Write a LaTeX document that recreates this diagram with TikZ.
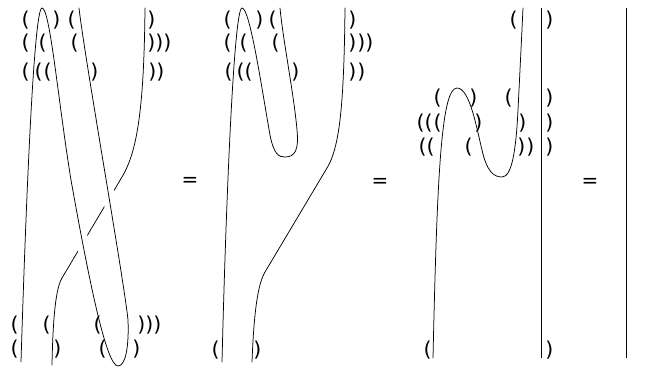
\documentclass[tikz,border=0pt]{standalone}
\usepackage{fontspec}
\setmainfont{DejaVu Sans}
\newcommand\looponepath{(21,362) .. controls (26,200) and (34,8) .. (42,8) .. controls (50,8) and (58,100) .. (71,180) .. controls (88,275) and (106,366) .. (118,366) .. controls (126,366) and (129,345) .. (128,320) .. controls (124,280) and (85,60) .. (79,8)}
\begin{document}
\begin{tikzpicture}[x=1pt,y=-1pt,
  strand/.style={line width=0.75pt, line cap=round, line join=round},
  halo/.style={white, line width=12pt},
  bar/.style={line width=0.9pt},
  lp/.style={inner sep=0pt, xshift=0.7pt, font=\fontsize{20.5}{20.5}\selectfont},
  rp/.style={inner sep=0pt, xshift=-0.7pt, font=\fontsize{20.5}{20.5}\selectfont},
  eqs/.style={inner sep=0pt, font=\fontsize{20}{20}\selectfont}]
\fill[white] (0,0) rectangle (649,369);
\useasboundingbox (0,0) rectangle (649,369);
% panel 1
\draw[strand] (145,8) .. controls (144,110) and (137,152) .. (122,177) -- (62,278) .. controls (56,288) and (53,315) .. (52,365);
\draw[halo] \looponepath;
\draw[strand] \looponepath;
% panel 2
\draw[strand] (222,362) .. controls (226,200) and (234,8) .. (242,8) .. controls (250,8) and (262,90) .. (270,135) .. controls (274,155) and (279,157) .. (285,157) .. controls (295,157) and (299,150) .. (297,130) .. controls (294,95) and (283,40) .. (280,8);
\draw[strand] (345,8) .. controls (344,110) and (339,148) .. (327,168) -- (265,272) .. controls (258,284) and (254,310) .. (252,362);
% panel 3
\draw[strand] (433,358) .. controls (437,180) and (441,88) .. (457,88) .. controls (470,88) and (477,130) .. (482,150) .. controls (487,172) and (494,177) .. (502,177) .. controls (512,177) and (516,150) .. (518,110) .. controls (520,70) and (522,30) .. (523,8);
\coordinate (b3t) at (541,8);
\coordinate (b3b) at (541,358);
\draw[bar] (b3t) -- (b3b);
% panel 4
\coordinate (b4t) at (626,8);
\coordinate (b4b) at (626,358);
\draw[bar] (b4t) -- (b4b);
% equals
\node[eqs] (e1) at (190,182) {=};
\node[eqs] (e2) at (380,183) {=};
\node[eqs] (e3) at (590,183) {=};
% left parens
\foreach \x/\y [count=\i] in {25/20, 71/20, 25/43, 42/43, 74/43, 25/72, 38/72, 47/72,
  14/325, 46/325, 97/325, 14/349, 102/349,
  227/20, 272/20, 227/43, 243/43, 275/43, 228/72, 240/72, 248/72,
  215/350,
  513/20, 437/98, 508/98, 420/123, 428/123, 437/123, 422/147, 430/147, 468/147,
  427/350}
  \node[lp] (L\i) at (\x,\y) {(};
% right parens
\foreach \x/\y [count=\i] in {57/20, 152/20, 152/43, 160/43, 168/43, 95/72, 153/72, 161/72,
  142/325, 150/325, 158/325, 58/349, 137/349,
  260/20, 353/20, 353/43, 362/43, 370/43, 296/72, 353/72, 362/72,
  258/350,
  550/20, 474/98, 550/98, 479/123, 523/123, 550/123, 522/147, 531/147, 550/147,
  550/350}
  \node[rp] (R\i) at (\x,\y) {)};
\end{tikzpicture}
\end{document}
